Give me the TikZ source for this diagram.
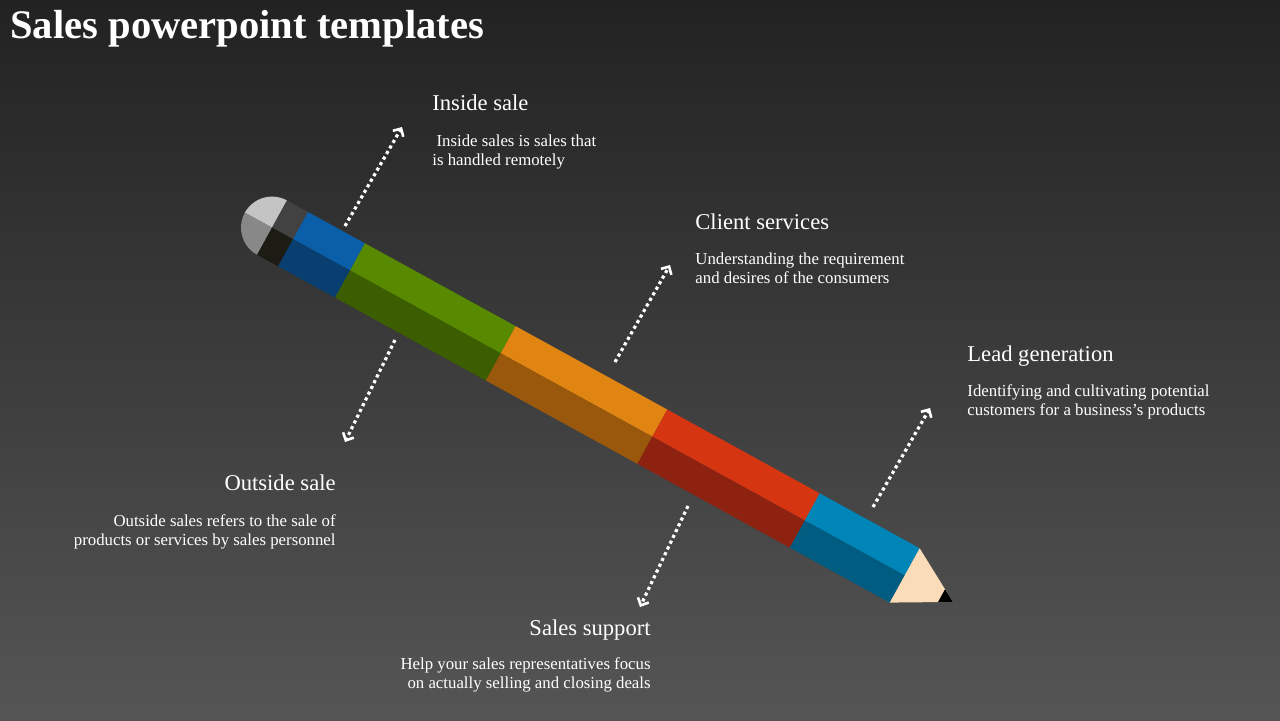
\documentclass[tikz,border=0pt]{standalone}
\usepackage{fontspec}
\setmainfont{Liberation Serif}
\usetikzlibrary{arrows.meta}
\definecolor{bgtop}{HTML}{222222}
\definecolor{bgbot}{HTML}{555555}
\definecolor{blueA}{HTML}{0A5FA8}\definecolor{blueB}{HTML}{083F70}
\definecolor{greenA}{HTML}{578A00}\definecolor{greenB}{HTML}{3C5E00}
\definecolor{orangeA}{HTML}{E08512}\definecolor{orangeB}{HTML}{99580C}
\definecolor{redA}{HTML}{D63512}\definecolor{redB}{HTML}{8E2210}
\definecolor{cyanA}{HTML}{0085B8}\definecolor{cyanB}{HTML}{005C80}
\definecolor{grayA}{HTML}{424242}\definecolor{grayB}{HTML}{1C1C14}
\definecolor{capA}{HTML}{C4C4C4}\definecolor{capB}{HTML}{888888}
\definecolor{wood}{HTML}{FADCB9}
\tikzset{
  heading/.style={text=white, font=\fontsize{11.3}{13}\selectfont, inner sep=0pt},
  body/.style={text=white, font=\fontsize{8.4}{9.5}\selectfont, inner sep=0pt},
  dotarrow/.style={white, line width=1.6pt, dash pattern=on 1.6pt off 1.6pt, -{Straight Barb[length=3pt,width=6pt,line width=1.3pt]}}
}
\newcommand{\band}[4]{%
  \fill[#3] (#1,0) -- (#2,0) -- (#2,31) -- (#1,31) -- cycle;
  \fill[#4] (#1,31) -- (#2,31) -- (#2,62) -- (#1,62) -- cycle;}
\begin{document}
\begin{tikzpicture}[x=0.5pt,y=-0.5pt]
  \shade[top color=bgtop, bottom color=bgbot] (0,0) rectangle (1280,720);
  \useasboundingbox (0,0) rectangle (1280,720);
  \node[anchor=base west, text=white, inner sep=0pt, font=\fontsize{20.3}{22}\selectfont\bfseries] (title) at (10,38) {Sales powerpoint templates};

  % pencil
  \begin{scope}[shift={(308,212)}, rotate=-28.8]
    \fill[capA] (-24,31) -- plot[domain=180:270, samples=30] ({-24+31*cos(\x)},{31+31*sin(\x)}) -- cycle;
    \fill[capB] (-24,31) -- plot[domain=90:180, samples=30] ({-24+31*cos(\x)},{31+31*sin(\x)}) -- cycle;
    \band{-24}{0}{grayA}{grayB}
    \band{0}{65}{blueA}{blueB}
    \band{65}{237}{greenA}{greenB}
    \band{237}{410}{orangeA}{orangeB}
    \band{410}{584}{redA}{redB}
    \band{584}{698}{cyanA}{cyanB}
    \fill[wood] (698,0) -- (753,31) -- (698,62) -- cycle;
    \fill[black] (740,23.7) -- (753,31) -- (740,38.3) -- cycle;
  \end{scope}

  % arrows
  \coordinate (a1s) at (345,226); \coordinate (a1e) at (402,127);
  \coordinate (a2s) at (615,362); \coordinate (a2e) at (670,265);
  \coordinate (a3s) at (873,507); \coordinate (a3e) at (930,408);
  \coordinate (a4s) at (395,340); \coordinate (a4e) at (345,442);
  \coordinate (a5s) at (688,506); \coordinate (a5e) at (640,607);
  \draw[dotarrow] (a1s) -- (a1e);
  \draw[dotarrow] (a2s) -- (a2e);
  \draw[dotarrow] (a3s) -- (a3e);
  \draw[dotarrow] (a4s) -- (a4e);
  \draw[dotarrow] (a5s) -- (a5e);

  % texts
  \node[heading, anchor=base west] (inside) at (432,110) {Inside sale};
  \node[body, anchor=north west, align=left] (insideT) at (432,134) {\ Inside sales is sales that\\is handled remotely};
  \node[heading, anchor=base west] (client) at (695,229) {Client services};
  \node[body, anchor=north west, align=left] (clientT) at (695,252) {Understanding the requirement\\and desires of the consumers};
  \node[heading, anchor=base west] (lead) at (967,361) {Lead generation};
  \node[body, anchor=north west, align=left] (leadT) at (967,384) {Identifying and cultivating potential\\customers for a business's products};
  \node[heading, anchor=base east] (outside) at (336,490) {Outside sale};
  \node[body, anchor=north east, align=right] (outsideT) at (336,514) {Outside sales refers to the sale of\\products or services by sales personnel};
  \node[heading, anchor=base east] (support) at (651,635) {Sales support};
  \node[body, anchor=north east, align=right] (supportT) at (651,657) {Help your sales representatives focus\\on actually selling and closing deals};
\end{tikzpicture}
\end{document}
